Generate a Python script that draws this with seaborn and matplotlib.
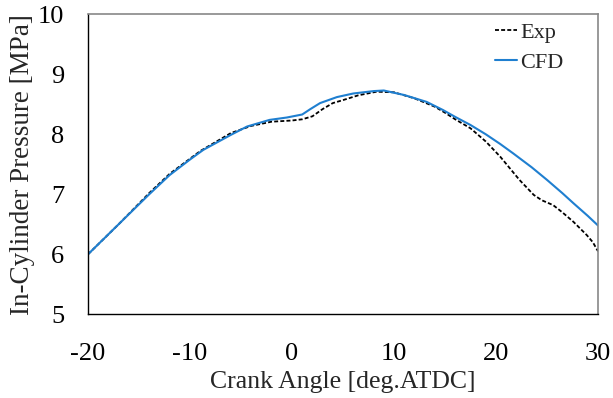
import matplotlib
matplotlib.use("Agg")
import matplotlib.pyplot as plt
import seaborn as sns
import pandas as pd

exp_angle = [-20, -17, -14, -12, -9, -6, -4, -2, 0, 1, 2, 3, 4, 5, 6.5, 8.3, 10, 12, 14, 15,
             16, 17.5, 19, 20.4, 22.3, 23.7, 24.5, 25.6, 26.5, 27.6, 28.9, 29.5, 30]
exp_pressure = [6.0, 6.5, 7.02, 7.34, 7.72, 8.02, 8.14, 8.21, 8.23, 8.25, 8.3, 8.42, 8.52, 8.57,
                8.65, 8.71, 8.7, 8.6, 8.46, 8.36, 8.25, 8.1, 7.88, 7.63, 7.24, 6.99, 6.9, 6.82,
                6.7, 6.54, 6.32, 6.2, 6.05]

cfd_angle = [-20, -17, -14, -12, -10, -8.7, -6, -4.4, -2.2, -0.5, 1, 1.8, 2.75, 4.4, 6, 8, 9,
             11, 13.2, 14.8, 16, 17.5, 19, 20.4, 21.7, 23.5, 25, 26.5, 27.6, 29, 30]
cfd_pressure = [6.0, 6.5, 7.0, 7.32, 7.58, 7.74, 7.99, 8.13, 8.24, 8.28, 8.33, 8.42, 8.52, 8.62,
                8.68, 8.72, 8.73, 8.655, 8.54, 8.405, 8.29, 8.155, 8.0, 7.84, 7.68, 7.45, 7.24,
                7.02, 6.85, 6.64, 6.48]

x_ticks = [-20, -10, 0, 10, 20, 30]
y_ticks = [5, 6, 7, 8, 9, 10]

sns.set_style("white")
plt.rcParams['font.family'] = ['Liberation Serif', 'DejaVu Serif']
plt.rcParams['axes.unicode_minus'] = False

exp_df = pd.DataFrame({"angle": exp_angle, "pressure": exp_pressure})
cfd_df = pd.DataFrame({"angle": cfd_angle, "pressure": cfd_pressure})

fig = plt.figure(figsize=(6.13, 3.98), dpi=100)
ax = fig.add_axes([88/613, 1 - 314.3/398, 510/613, 300/398])

sns.lineplot(data=exp_df, x="angle", y="pressure", ax=ax, color="black", lw=1.3,
             linestyle=(0, (2.2, 1.2)), label="Exp", sort=False)
sns.lineplot(data=cfd_df, x="angle", y="pressure", ax=ax, color="#1f7fd0", lw=1.5,
             label="CFD", sort=False)

ax.set_xlim(-20, 30)
ax.set_ylim(5, 10)
ax.set_xticks(x_ticks)
ax.set_yticks(y_ticks)
ax.tick_params(axis='both', direction='in', length=5, width=0.8, labelsize=19, colors='black')
ax.tick_params(axis='x', pad=21)
ax.tick_params(axis='y', pad=17)
ax.set_xlabel("Crank Angle [deg.ATDC]", fontsize=18.5, labelpad=4)
ax.set_ylabel("In-Cylinder Pressure [MPa]", fontsize=19.5, labelpad=2)

for side in ['left', 'bottom']:
    ax.spines[side].set_color('black')
    ax.spines[side].set_linewidth(1.0)
for side in ['top', 'right']:
    ax.spines[side].set_color('#888888')
    ax.spines[side].set_linewidth(1.2)

leg = ax.legend(loc='upper left', bbox_to_anchor=(0.798, 0.974), frameon=False, fontsize=16,
                handlelength=1.0, handletextpad=0.15, labelspacing=0.45, borderpad=0,
                borderaxespad=0)

fig.savefig("out.png", dpi=100)
